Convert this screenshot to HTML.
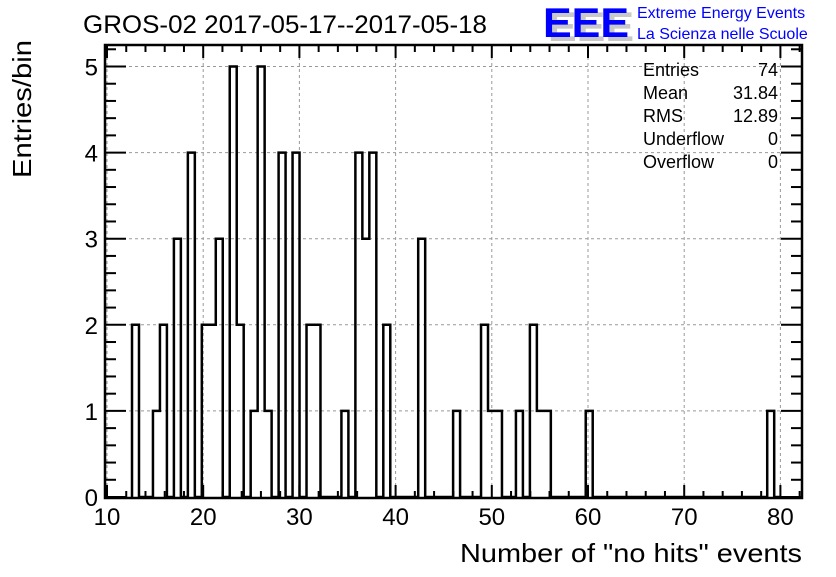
<!DOCTYPE html>
<html><head><meta charset="utf-8"><style>
body{margin:0;background:#fff;font-family:"Liberation Sans",sans-serif}
svg text{font-family:"Liberation Sans",sans-serif}
</style></head><body>
<svg width="836" height="572" viewBox="0 0 836 572">
<rect width="836" height="572" fill="#fff"/>
<text x="83" y="33" font-size="25" textLength="404" lengthAdjust="spacingAndGlyphs">GROS-02 2017-05-17--2017-05-18</text>
<g>
<text x="548" y="41" font-size="42" font-weight="bold" fill="#c8c8c8" textLength="86" lengthAdjust="spacingAndGlyphs">EEE</text>
<text x="543" y="37" font-size="42" font-weight="bold" fill="#0000ff" textLength="86" lengthAdjust="spacingAndGlyphs">EEE</text>
<text x="637" y="18" font-size="16" fill="#0000ff">Extreme Energy Events</text>
<text x="637" y="39" font-size="16" fill="#0000ff">La Scienza nelle Scuole</text>
</g>
<g id="grid"></g>
<g id="ticks"></g>
<path id="hist" fill="none" stroke="#000" stroke-width="2.5"/>
<rect x="105" y="45" width="697" height="453" fill="none" stroke="#000" stroke-width="2.5"/>
<g id="labels"></g>
<text x="802" y="562" font-size="26" text-anchor="end" textLength="342" lengthAdjust="spacingAndGlyphs">Number of "no hits" events</text>
<text transform="translate(31,178) rotate(-90)" font-size="26" textLength="138" lengthAdjust="spacingAndGlyphs">Entries/bin</text>
<g font-size="18">
<text x="643" y="76">Entries</text><text x="778" y="76" text-anchor="end">74</text>
<text x="643" y="99">Mean</text><text x="778" y="99" text-anchor="end">31.84</text>
<text x="643" y="122">RMS</text><text x="778" y="122" text-anchor="end">12.89</text>
<text x="643" y="145">Underflow</text><text x="778" y="145" text-anchor="end">0</text>
<text x="643" y="168">Overflow</text><text x="778" y="168" text-anchor="end">0</text>
</g>
</svg>
<script>
const binIndex=[0,3,4,6,8,10,11,12,14,15,17,18,19,21,23,25,26,30,32,33,34,36,41,46,50,51,52,55,57,58,59,65,91];
const binCounts=[2,1,2,3,4,2,2,3,5,2,1,5,1,4,4,2,2,1,4,3,4,2,3,1,2,1,1,1,2,1,1,1,1];
const xTickLabels=[10,20,30,40,50,60,70,80];
const yTickLabels=[0,1,2,3,4,5];
const binStart=12.6, binWidth=0.7256;
const X=v=>107+(v-10)*9.62;
const Y=v=>497-v*86.1;
const NS='http://www.w3.org/2000/svg';
function mk(tag,attrs,parent){const e=document.createElementNS(NS,tag);for(const k in attrs)e.setAttribute(k,attrs[k]);parent.appendChild(e);return e;}
const grid=document.getElementById('grid'),ticks=document.getElementById('ticks'),labels=document.getElementById('labels');
const nb=Math.max(...binIndex)+2;const counts=new Array(nb).fill(0);
binIndex.forEach((k,i)=>counts[k]=binCounts[i]);
let d='M'+X(binStart)+','+Y(0);let prev=0;
for(let k=0;k<nb;k++){const x0=X(binStart+k*binWidth),x1=X(binStart+(k+1)*binWidth);
 if(counts[k]!==prev){d+=' L'+x0+','+Y(counts[k]);}
 d+=' L'+x1+','+Y(counts[k]);prev=counts[k];}
document.getElementById('hist').setAttribute('d',d);
xTickLabels.forEach(v=>{
 const g=mk('line',{x1:X(v),x2:X(v),y1:45,y2:498,stroke:'#999','stroke-dasharray':'3,3','stroke-width':1},grid);
 
 
 const t=mk('text',{x:X(v),y:525,'font-size':24,'text-anchor':'middle'},labels);t.textContent=v;
 
 
});
for(let v=10;v<=82;v+=2){const L=(v%10===0)?13:7;
 mk('line',{x1:X(v),x2:X(v),y1:498,y2:498-L,stroke:'#000','stroke-width':2},ticks);
 mk('line',{x1:X(v),x2:X(v),y1:45,y2:45+L,stroke:'#000','stroke-width':2},ticks);}
yTickLabels.forEach(v=>{
 if(v>0){const g=mk('line',{x1:105,x2:802,y1:Y(v),y2:Y(v),stroke:'#999','stroke-dasharray':'3,3','stroke-width':1},grid);
 
 }
 const t=mk('text',{x:98,y:Y(v)+9,'font-size':24,'text-anchor':'end'},labels);t.textContent=v;
 
 
});
for(let i=0;i<=26;i++){const v=i*0.2;const L=(i%5===0)?21:11;
 mk('line',{x1:105,x2:105+L,y1:Y(v),y2:Y(v),stroke:'#000','stroke-width':2},ticks);
 mk('line',{x1:802,x2:802-L,y1:Y(v),y2:Y(v),stroke:'#000','stroke-width':2},ticks);}
</script>
</body></html>
